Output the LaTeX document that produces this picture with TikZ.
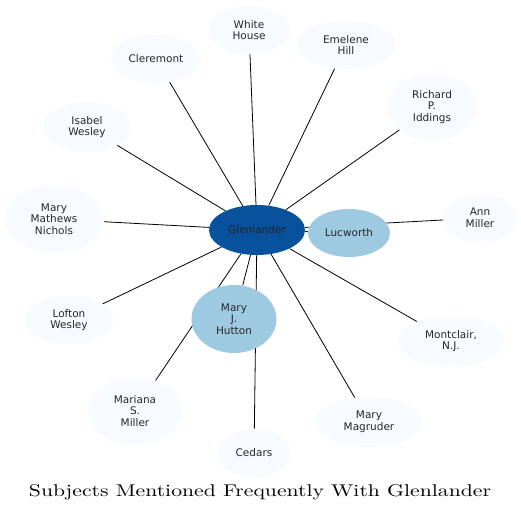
\documentclass[tikz,border=0pt]{standalone}
\usepackage{fontspec}
\newfontfamily\subjfont{DejaVu Sans}
\usetikzlibrary{shapes.geometric,backgrounds}
\definecolor{pale}{HTML}{F7FBFF}
\definecolor{mid}{HTML}{9ECAE1}
\definecolor{deep}{HTML}{08519C}
\begin{document}
\begin{tikzpicture}[x=1pt,y=-1pt,
    subj/.style={ellipse,fill=pale,inner sep=0pt,align=center,
      text=black!85,font=\subjfont\fontsize{10.5}{11.7}\selectfont},
    link/.style={line width=0.8pt}]
  \useasboundingbox (0,0) rectangle (521,514);
  %Noeuds du graphe
  \node[subj,fill=deep,minimum width=96,minimum height=50] (Glen) at (257,230) {Glenlander};
  \node[subj,fill=mid,minimum width=82,minimum height=48] (Luc) at (349,233) {Lucworth};
  \node[subj,fill=mid,minimum width=85,minimum height=68] (Hut) at (234,319) {Mary\\J.\\Hutton};
  \node[subj,minimum width=82,minimum height=48] (White) at (249,30) {White\\House};
  \node[subj,minimum width=90,minimum height=48] (Cler) at (156,59) {Cleremont};
  \node[subj,minimum width=100,minimum height=48] (Emel) at (346,45) {Emelene\\Hill};
  \node[subj,minimum width=90,minimum height=66] (Rich) at (432,107) {Richard\\P.\\Iddings};
  \node[subj,minimum width=88,minimum height=50] (Isab) at (87,127) {Isabel\\Wesley};
  \node[subj,minimum width=100,minimum height=67] (Nich) at (54,219) {Mary\\Mathews\\Nichols};
  \node[subj,minimum width=73,minimum height=49] (Ann) at (480,218) {Ann\\Miller};
  \node[subj,minimum width=88,minimum height=49] (Loft) at (69,320) {Lofton\\Wesley};
  \node[subj,minimum width=107,minimum height=50] (Mont) at (451,341) {Montclair,\\N.J.};
  \node[subj,minimum width=95,minimum height=67] (Mari) at (135,411) {Mariana\\S.\\Miller};
  \node[subj,minimum width=73,minimum height=48] (Ced) at (254,453) {Cedars};
  \node[subj,minimum width=107,minimum height=50] (Magr) at (369,422) {Mary\\Magruder};
  %Titre
  \node (Title) at (260,492) {\resizebox{462pt}{12pt}{Subjects Mentioned Frequently With Glenlander}};
  %Aretes
  \begin{pgfonlayer}{background}
    \draw[link] (Glen)--(Luc);
    \draw[link] (Glen)--(Hut);
    \draw[link] (Glen)--(White);
    \draw[link] (Glen)--(Cler);
    \draw[link] (Glen)--(Emel);
    \draw[link] (Glen)--(Rich);
    \draw[link] (Glen)--(Isab);
    \draw[link] (Glen)--(Nich);
    \draw[link] (Glen)--(Ann);
    \draw[link] (Glen)--(Loft);
    \draw[link] (Glen)--(Mont);
    \draw[link] (Glen)--(Mari);
    \draw[link] (Glen)--(Ced);
    \draw[link] (Glen)--(Magr);
  \end{pgfonlayer}
\end{tikzpicture}
\end{document}
